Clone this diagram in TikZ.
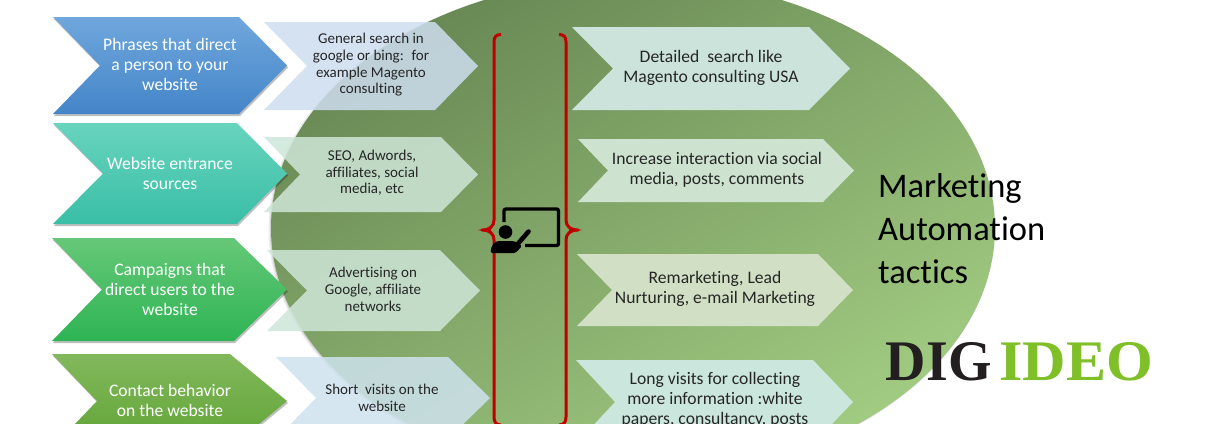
\documentclass[tikz,border=0pt]{standalone}
\usepackage{fontspec}
\setmainfont[Ligatures=NoCommon]{Carlito}
\newfontfamily\logofont{Liberation Serif}
\usetikzlibrary{shadows}
\definecolor{bracered}{HTML}{C00000}
\tikzset{
  x=1pt,y=-1pt,
  chevshadow/.style={drop shadow={shadow xshift=1pt,shadow yshift=-2pt,opacity=.25,fill=black}},
  paleblue/.style={fill={rgb,255:red,206;green,221;blue,240},fill opacity=.85},
  palegreen/.style={fill={rgb,255:red,206;green,230;blue,216},fill opacity=.85},
  palesky/.style={fill={rgb,255:red,206;green,226;blue,238},fill opacity=.85},
  maintext/.style={text=white,align=center,inner sep=0pt,font=\fontsize{17.6}{20}\selectfont},
  smalltext/.style={text=black!85,align=center,inner sep=0pt,font=\fontsize{15}{16.7}\selectfont},
  righttext/.style={text=black!85,align=center,inner sep=0pt,font=\fontsize{17.6}{20}\selectfont},
  bracestroke/.style={draw=bracered,line width=3pt,line join=round},
}
\newcommand{\chev}[7]{%
  \path[#7] (#1,#2) -- (#3,#2) -- (#4,{(#2+#5)/2}) -- (#3,#5) -- (#1,#5) -- (#6,{(#2+#5)/2}) -- cycle;}
\begin{document}
\begin{tikzpicture}
\useasboundingbox (0,0) rectangle (1210,423);
\clip (0,0) rectangle (1210,423);
% big ellipse
\fill[black,opacity=.07] (631.5,229) ellipse [x radius=363,y radius=251];
\fill[black,opacity=.12] (632,229) ellipse [x radius=362,y radius=250];
\shade[top color={rgb,255:red,104;green,136;blue,84},
  bottom color={rgb,255:red,162;green,204;blue,130},shading angle=30]
  (633,228) ellipse [x radius=362,y radius=250];
% left chevrons
\chev{53}{17}{239}{287}{114}{100}{chevshadow,top color={rgb,255:red,112;green,167;blue,221},bottom color={rgb,255:red,68;green,133;blue,200}}
\chev{53}{123}{237}{287}{224}{103}{chevshadow,top color={rgb,255:red,104;green,212;blue,190},bottom color={rgb,255:red,58;green,190;blue,166}}
\chev{52}{238}{234}{287}{341}{102}{chevshadow,top color={rgb,255:red,102;green,200;blue,120},bottom color={rgb,255:red,46;green,180;blue,84}}
\chev{52}{354}{230}{287}{448}{97}{chevshadow,top color={rgb,255:red,130;green,184;blue,92},bottom color={rgb,255:red,95;green,164;blue,53}}
% middle chevrons
\chev{264}{22}{435}{478}{110}{307}{paleblue}
\chev{264}{137}{441}{478}{212}{300}{palegreen}
\chev{267}{250}{440}{480}{331}{307}{palegreen}
\chev{276}{357}{448}{490}{439}{316}{palesky}
% right chevrons
\chev{572}{27}{809}{850}{110}{613}{fill={rgb,255:red,203;green,227;blue,219}}
\chev{578}{139}{823}{854}{202}{608}{fill={rgb,255:red,205;green,227;blue,207}}
\chev{577}{254}{818}{853}{326}{612}{fill={rgb,255:red,209;green,224;blue,196}}
\chev{576}{360}{813}{853}{444}{615}{fill={rgb,255:red,203;green,230;blue,221}}
% braces
\draw[bracestroke] (501,34.5) .. controls (496,34.5) and (494,37) .. (494,42) -- (494,220)
  .. controls (494,226) and (490,230) .. (482,230) .. controls (490,230) and (494,234) .. (494,240)
  -- (494,417) .. controls (494,422) and (496,425) .. (501,425);
\draw[bracestroke] (559,34.5) .. controls (564,34.5) and (566,37) .. (566,42) -- (566,220)
  .. controls (566,226) and (570,230) .. (578,230) .. controls (570,230) and (566,234) .. (566,240)
  -- (566,417) .. controls (566,422) and (564,425) .. (559,425);
\fill[bracered] (478,230) -- (491,227.5) -- (491,232.5) -- cycle;
\fill[bracered] (582,230) -- (569,227.5) -- (569,232.5) -- cycle;
% presenter icon
\draw[black,line width=3.4pt,line join=round,rounded corners=2pt] (504,222) -- (504,209) -- (558.5,209) -- (558.5,245.5) -- (525,245.5);
\fill[black] (505.5,232) circle (6.8);
\draw[black,line width=4.6pt,line cap=round] (528.5,231.5) -- (516,246);
\fill[black,rounded corners=1.5pt] (490.5,253) .. controls (491,245) and (495,241) .. (501,241)
  -- (514,241) -- (522,246) -- (515.5,253) -- cycle;
% left texts
\node[maintext] (p1) at (170,64.5) {Phrases that direct\\a person to your\\website};
\node[maintext] (p2) at (170,173) {Website entrance\\sources};
\node[maintext] (p3) at (170,289) {Campaigns that\\direct users to the\\website};
\node[maintext] (p4) at (170,400) {Contact behavior\\on the website};
% middle texts
\node[smalltext] (m1) at (371,65) {General search in\\google or bing: \ for\\example Magento\\consulting};
\node[smalltext] (m2) at (372,173) {SEO, Adwords,\\affiliates, social\\media, etc};
\node[smalltext] (m3) at (373,289.5) {Advertising on\\Google, affiliate\\networks};
\node[smalltext] (m4) at (382,397.5) {Short \ visits on the\\website};
% right texts
\node[righttext] (r1) at (711,68) {Detailed \ search like\\Magento consulting USA};
\node[righttext] (r2) at (717,170) {Increase interaction via social\\media, posts, comments};
\node[righttext] (r3) at (715,289) {Remarketing, Lead\\Nurturing, e-mail Marketing};
\node[righttext] (r4) at (715,400) {Long visits for collecting\\more information :white\\papers, consultancy, posts};
% title
\node[anchor=west,align=left,inner sep=0pt,text=black,font=\fontsize{34.5}{43}\selectfont] (title) at (878,229) {Marketing\\Automation\\tactics};
% logo
\node[anchor=center,inner sep=0pt] (logo) at (1019.5,362) {\resizebox{267pt}{38pt}{\logofont\bfseries\textcolor[HTML]{231F20}{\scalebox{.93}[1]{DIG}}\kern.13em\textcolor[HTML]{7FBF28}{IDEO}}};
\end{tikzpicture}
\end{document}
